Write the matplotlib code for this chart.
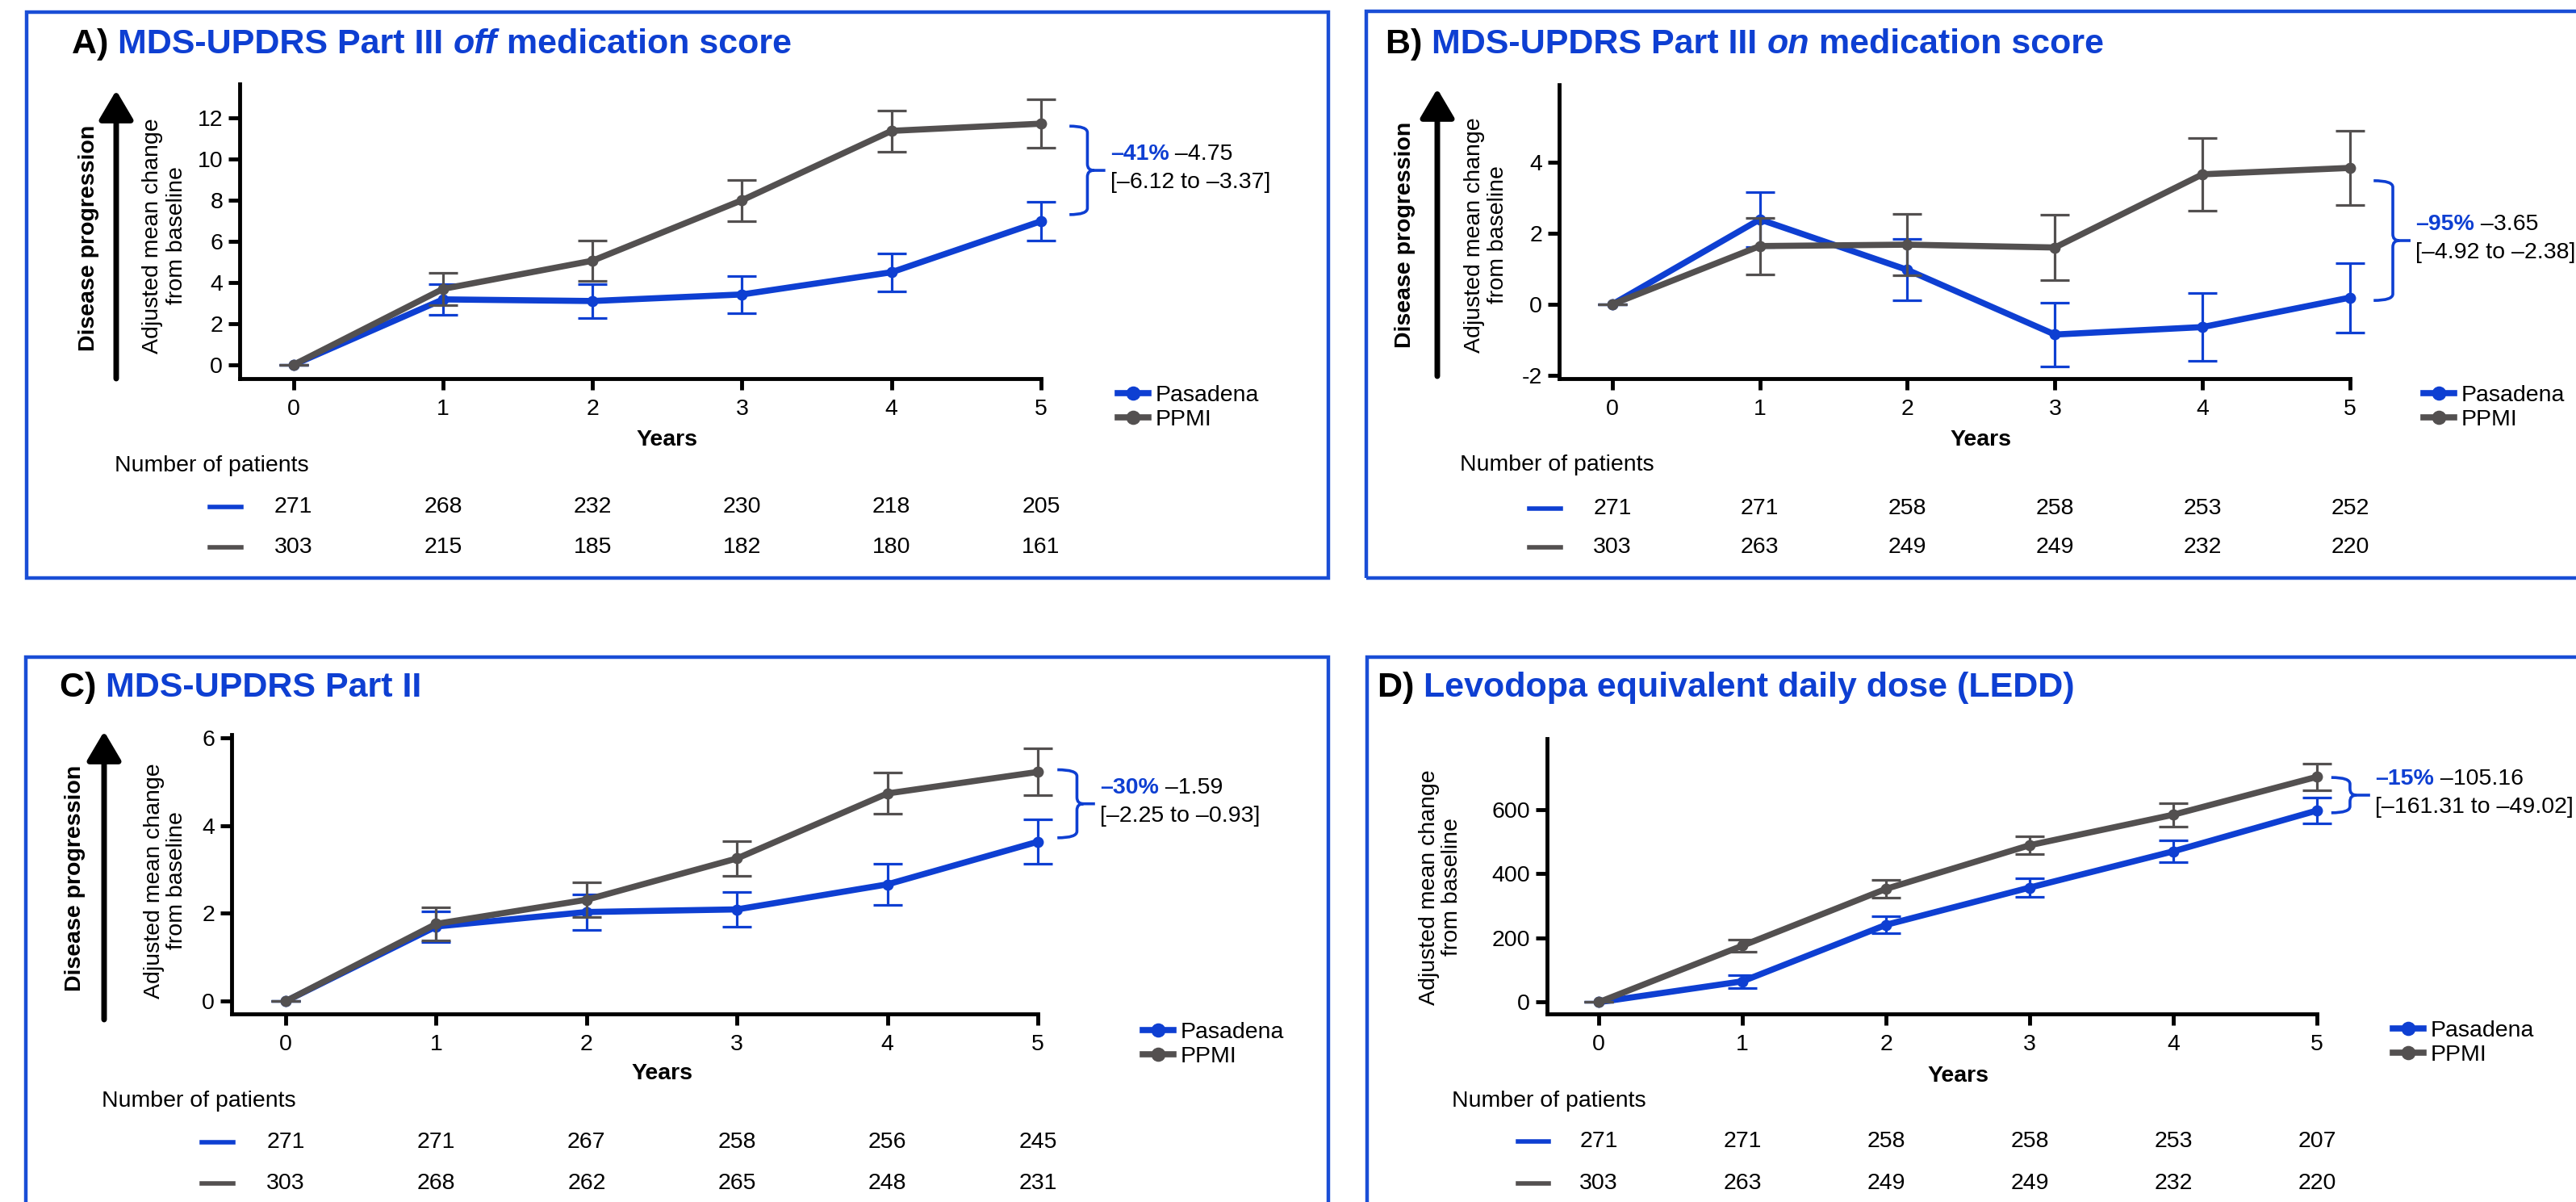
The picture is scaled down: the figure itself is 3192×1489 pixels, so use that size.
import matplotlib
matplotlib.use("Agg")
import matplotlib.pyplot as plt
import matplotlib.transforms as mtransforms
from matplotlib.path import Path
from matplotlib.patches import PathPatch, Rectangle
from matplotlib.lines import Line2D

plt.rcParams['font.family'] = ['Liberation Sans', 'DejaVu Sans']
plt.rcParams['axes.unicode_minus'] = False

# ------------------------------------------------------------
# Data
# ------------------------------------------------------------
years = [0, 1, 2, 3, 4, 5]

a_pas = [0, 3.18, 3.10, 3.42, 4.50, 6.98]
a_pas_err = [0, 0.75, 0.83, 0.90, 0.92, 0.96]
a_ppmi = [0, 3.69, 5.06, 8.00, 11.37, 11.72]
a_ppmi_err = [0, 0.79, 0.98, 1.00, 1.00, 1.18]

b_pas = [0, 2.39, 0.97, -0.85, -0.64, 0.19]
b_pas_err = [0, 0.77, 0.86, 0.90, 0.96, 0.98]
b_ppmi = [0, 1.64, 1.68, 1.60, 3.66, 3.84]
b_ppmi_err = [0, 0.80, 0.87, 0.92, 1.03, 1.05]

c_pas = [0, 1.70, 2.03, 2.09, 2.66, 3.63]
c_pas_err = [0, 0.35, 0.40, 0.40, 0.46, 0.51]
c_ppmi = [0, 1.76, 2.31, 3.25, 4.73, 5.22]
c_ppmi_err = [0, 0.38, 0.40, 0.39, 0.47, 0.53]

d_pas = [0, 65, 241, 357, 470, 597]
d_pas_err = [0, 20, 27, 30, 34, 41]
d_ppmi = [0, 176, 353, 489, 584, 702]
d_ppmi_err = [0, 20, 27, 28, 37, 42]

# number of patients per year
a_n_pas = [271, 268, 232, 230, 218, 205]
a_n_ppmi = [303, 215, 185, 182, 180, 161]
b_n_pas = [271, 271, 258, 258, 253, 252]
b_n_ppmi = [303, 263, 249, 249, 232, 220]
c_n_pas = [271, 271, 267, 258, 256, 245]
c_n_ppmi = [303, 268, 262, 265, 248, 231]
d_n_pas = [271, 271, 258, 258, 253, 207]
d_n_ppmi = [303, 263, 249, 249, 232, 220]

# treatment difference at year 5: (percent, estimate, CI)
a_diff = ('\u201341%', '\u20134.75', '[\u20136.12 to \u20133.37]')
b_diff = ('\u201395%', '\u20133.65', '[\u20134.92 to \u20132.38]')
c_diff = ('\u201330%', '\u20131.59', '[\u20132.25 to \u20130.93]')
d_diff = ('\u201315%', '\u2013105.16', '[\u2013161.31 to \u201349.02]')

# ------------------------------------------------------------
# Style / layout
# ------------------------------------------------------------
BLUE = '#0e3fd2'
GRAY = '#535050'
FRAME = '#1a4ed6'
FS = 20.5

W, H = 3192, 1489
fig = plt.figure(figsize=(W / 100, H / 100), dpi=100)


def fx(x):
    return x / W


def fy(y):
    return 1 - y / H


panels = [
    dict(letter='A) ', title=[('MDS-UPDRS Part III ', 'normal'), ('off', 'italic'), (' medication score', 'normal')],
         pas=a_pas, pas_err=a_pas_err, ppmi=a_ppmi, ppmi_err=a_ppmi_err,
         n_pas=a_n_pas, n_ppmi=a_n_ppmi, diff=a_diff,
         frame=(33, 15, 1646, 716), title_xy=(89, 55),
         axes=(297, 104, 1290, 469), ylim=(-0.67, 13.65), yticks=[0, 2, 4, 6, 8, 10, 12],
         brace=(5.19, 5.31, 5.43, 11.6, 7.3),
         legend_xy=(1385, 505), ylabel_xy=(204, 292), prog=(110, 295, 144, 112, 469),
         years_y=545, npat_xy=(142, 577), rows_y=(628, 678)),
    dict(letter='B) ', title=[('MDS-UPDRS Part III ', 'normal'), ('on', 'italic'), (' medication score', 'normal')],
         pas=b_pas, pas_err=b_pas_err, ppmi=b_ppmi, ppmi_err=b_ppmi_err,
         n_pas=b_n_pas, n_ppmi=b_n_ppmi, diff=b_diff,
         frame=(1693, 14, 3230, 716), title_xy=(1717, 55),
         axes=(1932, 105, 2912, 469), ylim=(-2.09, 6.18), yticks=[-2, 0, 2, 4],
         brace=(5.16, 5.29, 5.41, 3.48, 0.11),
         legend_xy=(3003, 505), ylabel_xy=(1842, 291), prog=(1741, 291, 1781, 110, 466),
         years_y=545, npat_xy=(1809, 576), rows_y=(630, 678)),
    dict(letter='C) ', title=[('MDS-UPDRS Part II', 'normal')],
         pas=c_pas, pas_err=c_pas_err, ppmi=c_ppmi, ppmi_err=c_ppmi_err,
         n_pas=c_n_pas, n_ppmi=c_n_ppmi, diff=c_diff,
         frame=(32, 814, 1646, 1530), title_xy=(74, 852),
         axes=(287, 910, 1286, 1256), ylim=(-0.29, 6.07), yticks=[0, 2, 4, 6],
         brace=(5.13, 5.26, 5.38, 5.27, 3.72),
         legend_xy=(1416, 1294), ylabel_xy=(205, 1091), prog=(93, 1088, 129, 906, 1263),
         years_y=1330, npat_xy=(126, 1364), rows_y=(1415, 1466)),
    dict(letter='D) ', title=[('Levodopa equivalent daily dose (LEDD)', 'normal')],
         pas=d_pas, pas_err=d_pas_err, ppmi=d_ppmi, ppmi_err=d_ppmi_err,
         n_pas=d_n_pas, n_ppmi=d_n_ppmi, diff=d_diff,
         frame=(1694, 814, 3230, 1530), title_xy=(1707, 852),
         axes=(1917, 915, 2871, 1256), ylim=(-36.5, 821), yticks=[0, 200, 400, 600],
         brace=(5.10, 5.23, 5.37, 700, 590),
         legend_xy=(2965, 1292), ylabel_xy=(1785, 1099), prog=None,
         years_y=1333, npat_xy=(1799, 1364), rows_y=(1414, 1466)),
]


def chain_text(first, pieces, fontsize, color):
    prev = first
    for txt, style in pieces:
        prev = fig.add_artist(matplotlib.text.Annotation(
            txt, xy=(1, 0), xycoords=prev, va='bottom', ha='left',
            fontsize=fontsize, fontweight='bold', fontstyle=style, color=color))
    return prev


def draw_brace(ax, x0, x1, tip, ytop, ybot, r=8):
    (px0, ptop), (px1, pbot), (ptip, _) = ax.transData.transform(
        [(x0, ytop), (x1, ybot), (tip, ybot)])
    pmid = (ptop + pbot) / 2
    verts = [(px0, ptop), (px1, ptop), (px1, ptop - r),
             (px1, pmid + r), (px1, pmid), (px1 + r, pmid),
             (ptip, pmid),
             (px1 + r, pmid), (px1, pmid), (px1, pmid - r),
             (px1, pbot + r), (px1, pbot), (px0, pbot)]
    codes = [Path.MOVETO, Path.CURVE3, Path.CURVE3,
             Path.LINETO, Path.CURVE3, Path.CURVE3,
             Path.LINETO,
             Path.MOVETO, Path.CURVE3, Path.CURVE3,
             Path.LINETO, Path.CURVE3, Path.CURVE3]
    fig.add_artist(PathPatch(Path(verts, codes), fill=False, ec=BLUE, lw=2.6,
                             transform=mtransforms.IdentityTransform()))


for p in panels:
    # frame
    x0, y0, x1, y1 = p['frame']
    fig.add_artist(Rectangle((fx(x0), fy(y1)), (x1 - x0) / W, (y1 - y0) / H,
                             transform=fig.transFigure, fill=False, ec=FRAME, lw=3.2))

    # title
    tx, ty = p['title_xy']
    t0 = fig.text(fx(tx), fy(ty), p['letter'], fontsize=31, fontweight='bold',
                  color='black', va='center', ha='left')
    chain_text(t0, p['title'], 31, BLUE)

    # axes
    L, T, R, B = p['axes']
    ax = fig.add_axes([fx(L), fy(B), (R - L) / W, (B - T) / H])
    handles = []
    for vals, errs, col, lab, z in [(p['pas'], p['pas_err'], BLUE, 'Pasadena', 2),
                                    (p['ppmi'], p['ppmi_err'], GRAY, 'PPMI', 4)]:
        eb = ax.errorbar(years, vals, yerr=errs, fmt='none', ecolor=col,
                         elinewidth=2.3, capsize=13, capthick=2.3, zorder=z)
        for art in list(eb.lines[1]) + list(eb.lines[2]):
            art.set_clip_on(False)
        ln, = ax.plot(years, vals, color=col, lw=5.5, marker='o', ms=9,
                      zorder=z + 1, clip_on=False, label=lab)
        handles.append(ln)

    ax.set_xlim(-0.36, 5)
    ax.set_ylim(*p['ylim'])
    ax.set_xticks(years)
    ax.set_yticks(p['yticks'])
    for s in ['top', 'right']:
        ax.spines[s].set_visible(False)
    for s in ['left', 'bottom']:
        ax.spines[s].set_linewidth(3.5)
    ax.tick_params(width=3.5, length=10, labelsize=FS, direction='out')
    ax.tick_params(axis='x', pad=8)
    ax.tick_params(axis='y', pad=5)

    blend = mtransforms.blended_transform_factory(ax.transData, fig.transFigure)
    ax.text(2.5, fy(p['years_y']), 'Years', transform=blend, ha='center', va='center',
            fontsize=FS, fontweight='bold')

    # y label
    lx, ly = p['ylabel_xy']
    fig.text(fx(lx), fy(ly), 'Adjusted mean change\nfrom baseline', rotation=90,
             ha='center', va='center', fontsize=FS, linespacing=1.15, multialignment='center')

    # disease progression arrow
    if p['prog'] is not None:
        dx, dy, axx, atip, abot = p['prog']
        fig.text(fx(dx), fy(dy), 'Disease progression', rotation=90, ha='center',
                 va='center', fontsize=FS, fontweight='bold')
        ax.annotate('', xy=(axx, H - atip), xytext=(axx, H - abot),
                    xycoords='figure pixels', textcoords='figure pixels',
                    arrowprops=dict(arrowstyle='-|>,head_length=2.2,head_width=1.3',
                                    lw=5, color='black', shrinkA=0, shrinkB=0,
                                    mutation_scale=10))

    # legend
    gx, gy = p['legend_xy']
    ax.legend(handles=handles, loc='center left', bbox_to_anchor=(fx(gx), fy(gy)),
              bbox_transform=fig.transFigure, frameon=False, fontsize=FS,
              handlelength=1.35, handletextpad=0.3, labelspacing=0.12,
              borderpad=0, borderaxespad=0, markerscale=1.3)

    # brace + difference annotation
    bx0, bx1, btip, btop, bbot = p['brace']
    fig.canvas.draw()
    draw_brace(ax, bx0, bx1, btip, btop, bbot)
    bmid = (btop + bbot) / 2
    pct, est, ci = p['diff']
    t1 = ax.annotate(pct, xy=(btip, bmid), xytext=(6, 20), textcoords='offset pixels',
                     fontsize=FS, fontweight='bold', color=BLUE, va='center', ha='left',
                     annotation_clip=False)
    fig.add_artist(matplotlib.text.Annotation(' ' + est, xy=(1, 0), xycoords=t1,
                                              va='bottom', ha='left', fontsize=FS))
    ax.annotate(ci, xy=(btip, bmid), xytext=(6, -15), textcoords='offset pixels',
                fontsize=FS, va='center', ha='left', annotation_clip=False)

    # number of patients table
    nx, ny = p['npat_xy']
    fig.text(fx(nx), fy(ny), 'Number of patients', ha='left', va='center', fontsize=FS)
    for counts, col, ry in [(p['n_pas'], BLUE, p['rows_y'][0]), (p['n_ppmi'], GRAY, p['rows_y'][1])]:
        ax.add_line(Line2D([-0.56, -0.35], [fy(ry), fy(ry)], transform=blend, color=col,
                           lw=4, clip_on=False))
        for yr, n in zip(years, counts):
            ax.text(yr, fy(ry), str(n), transform=blend, ha='center', va='center', fontsize=FS)

fig.savefig('out.png', dpi=100)
